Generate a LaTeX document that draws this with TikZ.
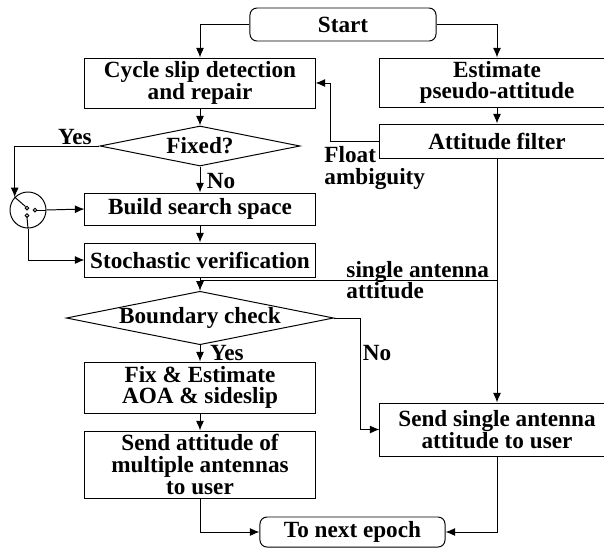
\documentclass[tikz,border=0pt]{standalone}
\usepackage{fontspec}
\setmainfont{Liberation Serif}
\usetikzlibrary{arrows.meta,shapes.geometric}
\def\schrift{\fontsize{16.5}{15.5}\selectfont\bfseries}
\def\kontakt#1#2{ \draw (#1,#2) circle[radius=1.8]; }

\begin{document}
\begin{tikzpicture}[x=0.025cm,y=-0.025cm,>={Latex[length=2.4mm,width=2mm]},line width=0.7pt,
	box/.style={draw,align=center,inner sep=0pt,font=\schrift},
	decision/.style={draw,diamond,aspect=5,inner sep=0pt,font=\schrift},
	terminal/.style={box,rounded corners=5pt},
	tag/.style={font=\schrift,align=left,inner sep=0pt}]
\clip (0,0) rectangle (604,547);

\node[terminal,minimum width=4.65cm,minimum height=0.825cm] (start) at (343,24.5) {Start};
\node[box,minimum width=5.75cm,minimum height=1.25cm] (slip) at (200,83) {Cycle slip detection\\and repair};
\node[box,minimum width=5.85cm,minimum height=1.225cm] (est) at (497,82.5) {Estimate\\pseudo-attitude};
\node[box,minimum width=5.85cm,minimum height=0.85cm] (filter) at (497,141) {Attitude filter};
\node[decision,minimum width=5cm,minimum height=1cm] (fixed) at (200,146) {Fixed?};
\node[draw,circle,minimum size=0.9cm,inner sep=0pt] (switch) at (28,210) {};
\node[box,minimum width=5.75cm,minimum height=0.8cm] (search) at (200,209) {Build search space};
\node[box,minimum width=5.75cm,minimum height=0.85cm] (verify) at (200,260) {Stochastic verification};
\node[decision,minimum width=6.625cm,minimum height=1.25cm] (bound) at (200,318) {Boundary check};
\node[box,minimum width=5.75cm,minimum height=1.275cm] (fix) at (200,387.5) {Fix \& Estimate\\AOA \& sideslip};
\node[box,minimum width=5.75cm,minimum height=1.675cm] (multi) at (200,464.5) {Send attitude of\\multiple antennas\\to user};
\node[box,minimum width=5.85cm,minimum height=1.325cm] (single) at (497,429.5) {Send single antenna\\attitude to user};
\node[terminal,minimum width=4.625cm,minimum height=0.75cm] (next) at (352.5,532) {To next epoch};

\node[tag] (yes1) at (75,137) {Yes};
\node[tag] (no1) at (221,181) {No};
\node[tag,anchor=north west] (float) at (324,146) {Float\\ambiguity};
\node[tag,anchor=west] (sat) at (346,280) {single antenna\\attitude};
\node[tag] (yes2) at (227,353) {Yes};
\node[tag] (no2) at (377,353) {No};

\draw[->] (start.west) -| (slip.north);
\draw[->] (start.east) -| (est.north);
\draw[->] (est.south) -- (filter.north);
\draw[->] (filter.west) -- ++(-49,0) |- (slip.east);
\draw[->] (slip.south) -- (fixed.north);
\draw[->] (fixed.west) -| (switch.136);
\draw[->] (fixed.south) -- (search.north);

\draw (switch.136) -- (25.5,206.5);
\kontakt{27}{208}
\kontakt{35}{210}
\kontakt{27}{215.5}
\draw (36.8,210) -- (switch.east);
\draw (27,217.3) -- (switch.south);
\draw[->] (switch.east) -- (search.west);
\draw[->] (switch.south) |- (verify.west);

\draw[->] (search.south) -- (verify.north);
\draw[->] (verify.south) -- (bound.north);
\coordinate (join) at (200,280);
\draw (join) -- (join -| filter.south);
\draw[->] (filter.south) -- (single.north);
\draw[->] (bound.east) -- ++(26,0) |- (single.west);
\draw[->] (bound.south) -- (fix.north);
\draw[->] (fix.south) -- (multi.north);
\draw[->] (multi.south) |- (next.west);
\draw[->] (single.south) |- (next.east);
\end{tikzpicture}
\end{document}
